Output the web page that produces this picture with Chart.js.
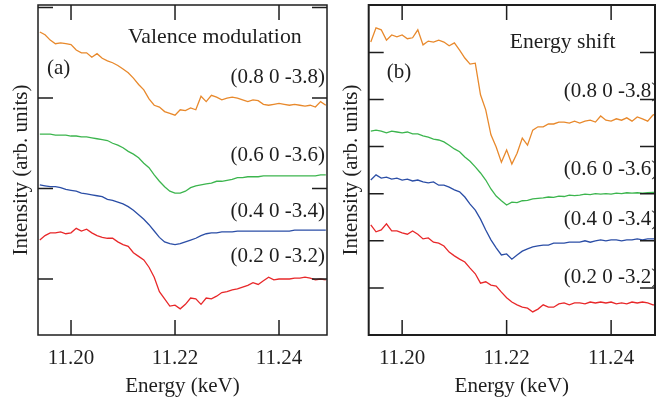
<!DOCTYPE html>
<html><head><meta charset="utf-8">
<script src="https://cdn.jsdelivr.net/npm/chart.js@4"></script>
<style>
html,body{margin:0;padding:0;background:#fff;overflow:hidden;width:656px;height:405px;}
canvas{position:absolute;top:0;}
</style></head><body>
<canvas id="ca" width="330" height="405" style="left:0"></canvas>
<canvas id="cb" width="330" height="405" style="left:330px"></canvas>
<script>
// ---------- data ----------
const energies = [11.194,11.195,11.196,11.197,11.198,11.199,11.200,11.201,11.202,11.203,
  11.204,11.205,11.206,11.207,11.208,11.209,11.210,11.211,11.212,11.213,
  11.214,11.215,11.216,11.217,11.218,11.219,11.220,11.221,11.222,11.223,
  11.224,11.225,11.226,11.227,11.228,11.229,11.230,11.231,11.232,11.233,
  11.234,11.235,11.236,11.237,11.238,11.239,11.240,11.241,11.242,11.243,
  11.244,11.245,11.246,11.247,11.248,11.249];
const seriesLabels = ['(0.8 0 -3.8)','(0.6 0 -3.6)','(0.4 0 -3.4)','(0.2 0 -3.2)'];
const xTicks = [11.20, 11.22, 11.24];
const yTicksA = [0,1,2,3];
const yTicksB = [0,1,2,3,4,5,6,7];

// panel (a): Valence modulation
const orangeA = [2.73,2.70,2.64,2.60,2.61,2.60,2.59,2.53,2.50,2.50,
  2.45,2.49,2.44,2.41,2.39,2.36,2.32,2.28,2.22,2.15,
  2.09,1.99,1.92,1.90,1.85,1.83,1.81,1.87,1.86,1.89,
  1.87,2.02,1.96,2.03,2.01,1.98,2.00,2.01,2.00,1.98,
  1.96,1.98,1.97,1.93,1.92,1.93,1.94,1.93,1.92,1.93,
  1.92,1.91,1.92,1.90,1.96,1.92];
const greenA = [1.60,1.60,1.60,1.59,1.59,1.59,1.58,1.58,1.57,1.57,
  1.56,1.55,1.54,1.53,1.50,1.48,1.45,1.41,1.38,1.34,
  1.28,1.23,1.15,1.08,1.02,0.97,0.95,0.95,0.97,1.01,
  1.03,1.04,1.05,1.06,1.08,1.08,1.09,1.10,1.12,1.12,
  1.13,1.13,1.13,1.14,1.14,1.14,1.14,1.14,1.14,1.14,
  1.14,1.14,1.14,1.14,1.15,1.15];
const blueA = [1.04,1.03,1.02,1.02,1.01,0.99,0.98,0.97,0.95,0.94,
  0.93,0.92,0.91,0.88,0.87,0.85,0.83,0.80,0.76,0.71,
  0.66,0.60,0.53,0.46,0.41,0.39,0.38,0.39,0.41,0.43,
  0.45,0.48,0.50,0.51,0.51,0.52,0.52,0.52,0.53,0.53,
  0.53,0.53,0.53,0.53,0.53,0.53,0.53,0.53,0.53,0.54,
  0.54,0.54,0.54,0.54,0.54,0.54];
const redA = [0.43,0.48,0.51,0.51,0.52,0.50,0.51,0.56,0.53,0.55,
  0.51,0.48,0.46,0.45,0.45,0.41,0.38,0.36,0.29,0.25,
  0.21,0.13,0.02,-0.14,-0.22,-0.30,-0.29,-0.33,-0.28,-0.21,
  -0.22,-0.28,-0.21,-0.22,-0.19,-0.15,-0.14,-0.12,-0.11,-0.09,
  -0.07,-0.04,-0.06,-0.02,0.02,-0.01,0.00,0.00,0.00,0.01,
  0.01,0.02,0.01,-0.01,0.00,-0.01];

// panel (b): Energy shift
const orangeB = [6.22,6.52,6.48,6.26,6.37,6.33,6.37,6.29,6.31,6.48,
  6.16,6.24,6.22,6.26,6.22,6.14,6.20,6.05,5.88,5.75,
  5.77,5.10,4.78,4.25,3.99,3.67,3.93,3.63,3.86,4.18,
  4.03,4.35,4.42,4.42,4.48,4.48,4.52,4.52,4.50,4.54,
  4.50,4.54,4.56,4.52,4.65,4.56,4.54,4.59,4.56,4.61,
  4.54,4.63,4.59,4.54,4.67,4.71];
const greenB = [4.33,4.35,4.33,4.29,4.33,4.31,4.29,4.31,4.27,4.27,
  4.23,4.20,4.16,4.14,4.10,4.03,3.95,3.89,3.78,3.69,
  3.57,3.44,3.29,3.10,2.95,2.85,2.76,2.82,2.81,2.85,
  2.86,2.89,2.90,2.91,2.93,2.92,2.95,2.94,2.97,2.96,
  2.97,2.99,2.98,3.00,2.99,3.00,2.99,3.01,3.00,3.02,
  3.01,3.02,3.01,3.02,3.03,3.02];
const blueB = [3.29,3.40,3.33,3.35,3.31,3.33,3.29,3.31,3.27,3.29,
  3.25,3.23,3.25,3.18,3.18,3.14,3.08,3.04,2.93,2.78,
  2.65,2.46,2.23,2.02,1.85,1.70,1.72,1.61,1.70,1.78,
  1.83,1.87,1.89,1.91,1.91,1.95,1.95,1.95,1.97,1.97,
  1.97,2.00,1.97,2.00,2.02,2.00,2.02,2.02,2.00,2.02,
  2.02,2.04,2.02,2.04,2.04,2.04];
const redB = [2.34,2.19,2.23,2.36,2.21,2.21,2.17,2.14,2.21,2.14,
  2.04,2.06,1.97,1.95,1.89,1.76,1.68,1.61,1.55,1.42,
  1.30,1.10,1.13,1.06,1.04,0.91,0.79,0.70,0.64,0.59,
  0.57,0.49,0.55,0.64,0.59,0.59,0.66,0.68,0.64,0.68,
  0.68,0.66,0.70,0.68,0.70,0.68,0.70,0.66,0.68,0.66,
  0.70,0.68,0.70,0.68,0.64,0.64];

// ---------- style ----------
const colors = ['#e8892c','#3cb54e','#2b4ea6','#e8282a'];
const FONT = "'Liberation Serif', 'Times New Roman', serif";
const INK = '#1e1e1e';

function pts(vals){ return energies.map((e,i)=>({x:e, y:vals[i]})); }

function makeFrame(texts, lw){
  return {
    id:'frame',
    afterDatasetsDraw(chart){
      const {ctx, chartArea:a, scales} = chart;
      ctx.save();
      ctx.fillStyle = INK;
      ctx.textBaseline = 'alphabetic';
      for (const t of texts){
        ctx.font = (t.size || 21) + 'px ' + FONT;
        ctx.textAlign = t.align;
        ctx.fillText(t.text, a.left + t.dx, a.top + t.dy);
      }
      ctx.strokeStyle = INK;
      ctx.lineWidth = lw;
      ctx.strokeRect(a.left, a.top, a.right - a.left, a.bottom - a.top);
      const L = 15;
      ctx.lineWidth = 1.5;
      ctx.beginPath();
      for (const t of scales.x.ticks){
        const p = scales.x.getPixelForValue(t.value);
        ctx.moveTo(p, a.bottom); ctx.lineTo(p, a.bottom - L);
        ctx.moveTo(p, a.top); ctx.lineTo(p, a.top + L);
      }
      for (const t of scales.y.ticks){
        const p = scales.y.getPixelForValue(t.value);
        ctx.moveTo(a.left, p); ctx.lineTo(a.left + L, p);
        ctx.moveTo(a.right, p); ctx.lineTo(a.right - L, p);
      }
      ctx.stroke();
      ctx.restore();
    }
  };
}

function makeChart(id, sets, yMin, yMax, yTicks, xMin, xMax, leftW, padRight, texts, lw){
  return new Chart(document.getElementById(id), {
    type:'line',
    data:{ datasets: sets.map((v,i)=>({
      data: pts(v), borderColor: colors[i], borderWidth: 1.3,
      pointRadius: 0, fill: false, tension: 0
    })) },
    options:{
      responsive:false, animation:false, devicePixelRatio:1,
      layout:{ padding:{ left:0, right:padRight, top:5, bottom:0 } },
      plugins:{ legend:{display:false}, tooltip:{enabled:false} },
      scales:{
        x:{
          type:'linear', min:xMin, max:xMax,
          afterBuildTicks(s){ s.ticks = xTicks.map(v=>({value:v})); },
          afterFit(s){ s.height = 70; },
          grid:{ display:false, drawTicks:false },
          border:{ display:false },
          ticks:{ padding:11, color:INK, font:{family:FONT, size:21},
                  callback:v=>Number(v).toFixed(2), maxRotation:0, autoSkip:false },
          title:{ display:true, text:'Energy (keV)', color:INK,
                  font:{family:FONT, size:21}, padding:{top:0, bottom:6} }
        },
        y:{
          type:'linear', min:yMin, max:yMax,
          afterBuildTicks(s){ s.ticks = yTicks.map(v=>({value:v})); },
          afterFit(s){ s.width = leftW; },
          grid:{ display:false, drawTicks:false },
          border:{ display:false },
          ticks:{ display:false },
          title:{ display:true, text:'Intensity (arb. units)', color:INK,
                  font:{family:FONT, size:21}, padding:{top:9, bottom:0} }
        }
      }
    },
    plugins:[ makeFrame(texts, lw) ]
  });
}

const textsA = [
  {text:'Valence modulation', dx:90, dy:38, align:'left', size:21.8},
  {text:'(a)', dx:9, dy:69, align:'left'},
  {text:seriesLabels[0], dx:287, dy:78, align:'right'},
  {text:seriesLabels[1], dx:287, dy:156, align:'right'},
  {text:seriesLabels[2], dx:287, dy:212, align:'right'},
  {text:seriesLabels[3], dx:287, dy:257, align:'right'}
];
const textsB = [
  {text:'Energy shift', dx:141, dy:43, align:'left', size:21.6},
  {text:'(b)', dx:18, dy:73, align:'left'},
  {text:seriesLabels[0], dx:195, dy:92, align:'left'},
  {text:seriesLabels[1], dx:195, dy:170, align:'left'},
  {text:seriesLabels[2], dx:195, dy:220, align:'left'},
  {text:seriesLabels[3], dx:195, dy:278, align:'left'}
];

makeChart('ca', [orangeA, greenA, blueA, redA], -0.619, 3.028, yTicksA,
          11.19365, 11.24923, 38, 3, textsA, 1.5);
makeChart('cb', [orangeB, greenB, blueB, redB], 0, 7.006, yTicksB,
          11.1936, 11.2484, 38.7, 5, textsB, 2);
</script>
</body></html>
